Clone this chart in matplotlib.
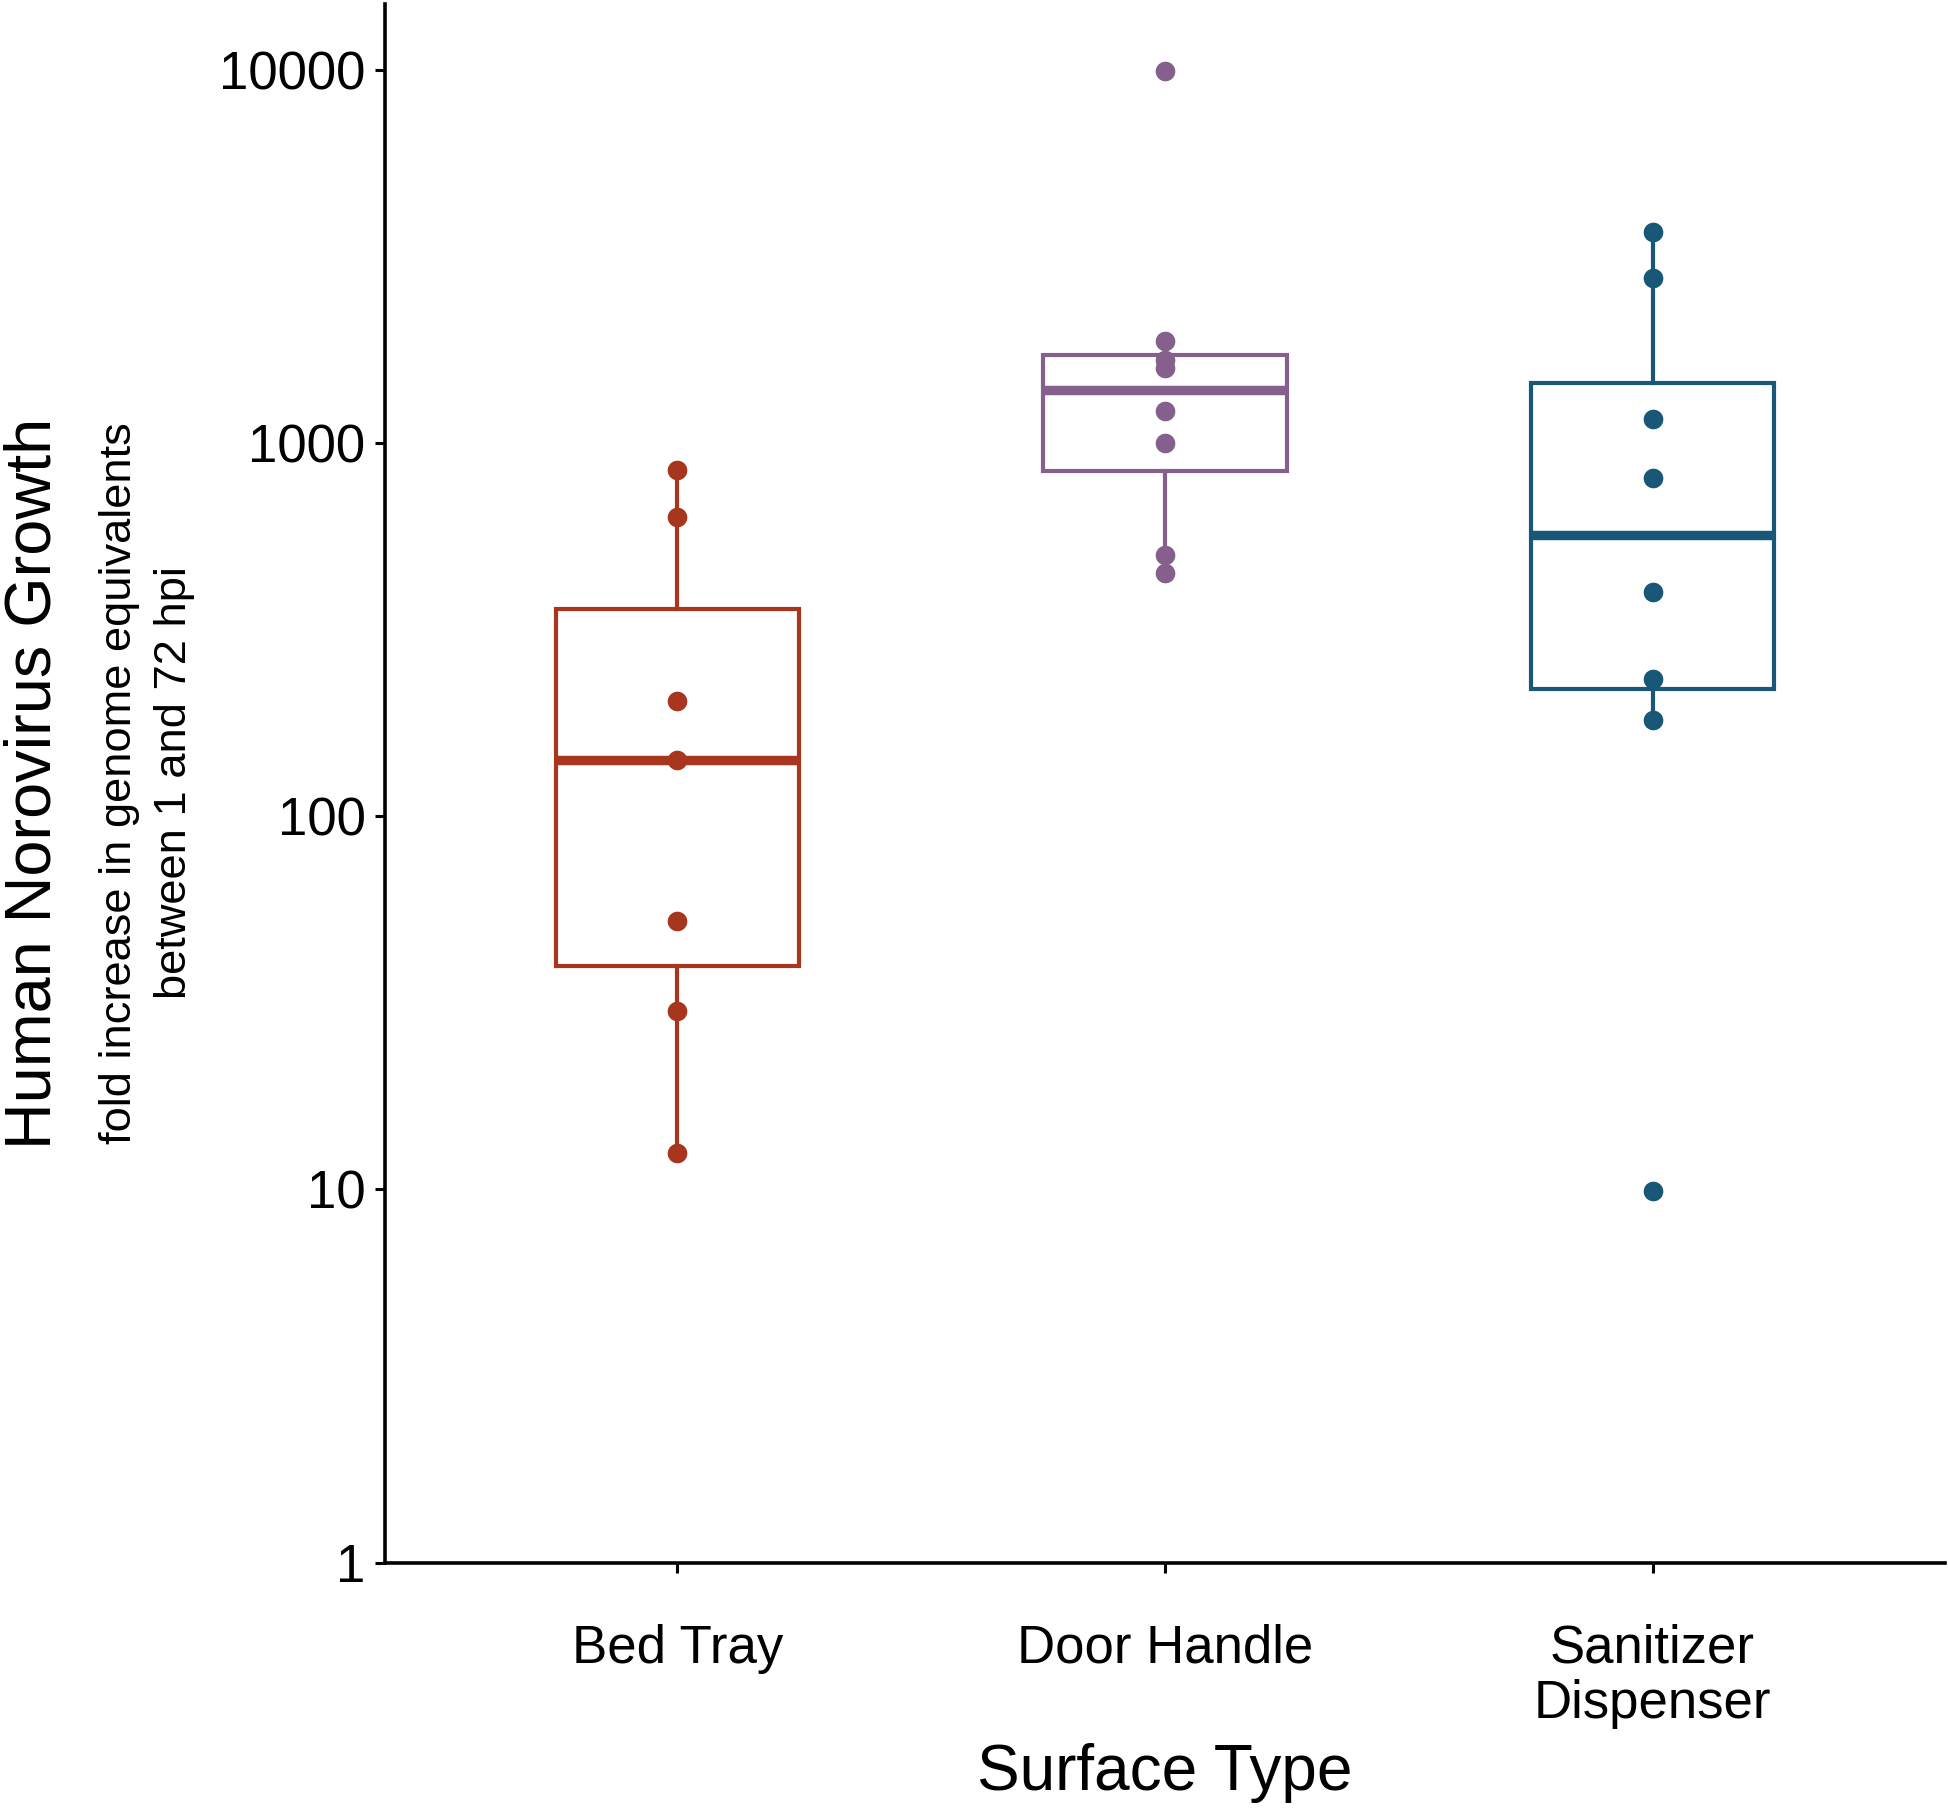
"""Human norovirus growth per surface type: log-scale box plot with raw points."""
import numpy as np
import matplotlib

matplotlib.use("Agg")
import matplotlib.pyplot as plt
from matplotlib.ticker import FixedLocator, FixedFormatter, NullLocator

plt.rcParams["font.family"] = ["Liberation Sans", "DejaVu Sans"]

SURFACES = ["Bed Tray", "Door Handle", "Sanitizer\nDispenser"]
COLORS = ["#A8361E", "#86608C", "#185778"]

# fold increase in genome equivalents
BED_TRAY = [847, 634, 203, 141, 52.4, 30.0, 12.5]
DOOR_HANDLE = [9900, 1879, 1667, 1585, 1217, 997, 501, 447]
SANITIZER = [3667, 2767, 1162, 807, 399, 233, 181, 9.9]

Y_TICKS = [1, 10, 100, 1000, 10000]
Y_TICK_LABELS = ["1", "10", "100", "1000", "10000"]


def log_box_stats(values):
    # quartiles and whiskers on the log10 scale, like ggplot with scale_y_log10
    logv = np.log10(np.asarray(values, dtype=float))
    q1, med, q3 = np.percentile(logv, [25, 50, 75])
    iqr = q3 - q1
    inside = logv[(logv >= q1 - 1.5 * iqr) & (logv <= q3 + 1.5 * iqr)]
    return dict(med=10 ** med, q1=10 ** q1, q3=10 ** q3,
                whislo=10 ** inside.min(), whishi=10 ** inside.max(), fliers=[])


def main():
    fig = plt.figure(figsize=(19.49, 18.10), dpi=100)
    ax = fig.add_axes([0.1975, 0.1367, 0.8005, 0.8611])

    groups = [BED_TRAY, DOOR_HANDLE, SANITIZER]
    for i, (vals, col) in enumerate(zip(groups, COLORS)):
        pos = i + 1
        ax.bxp([log_box_stats(vals)], positions=[pos], widths=0.5,
               patch_artist=True, showcaps=False, showfliers=False,
               boxprops=dict(facecolor="white", edgecolor=col, linewidth=3.0),
               whiskerprops=dict(color=col, linewidth=3.0),
               medianprops=dict(color=col, linewidth=6.8, solid_capstyle="butt"),
               zorder=2)
        ax.scatter([pos] * len(vals), vals, s=200, color=col, zorder=3,
                   linewidths=0)

    ax.set_yscale("log")
    ax.set_ylim(1, 15000)
    ax.set_xlim(0.4, 3.6)
    ax.yaxis.set_major_locator(FixedLocator(Y_TICKS))
    ax.yaxis.set_major_formatter(FixedFormatter(Y_TICK_LABELS))
    ax.yaxis.set_minor_locator(NullLocator())
    ax.set_xticks([1, 2, 3])
    ax.set_xticklabels(SURFACES, linespacing=1.13)

    for side in ("top", "right"):
        ax.spines[side].set_visible(False)
    for side in ("left", "bottom"):
        ax.spines[side].set_linewidth(2.6)
        ax.spines[side].set_color("black")

    ax.tick_params(axis="y", length=7, width=2.2, pad=7, labelsize=38, colors="black")
    ax.tick_params(axis="x", length=7, width=2.2, pad=37, labelsize=38, colors="black")

    fig.text(0.017, 0.5674, "Human Norovirus Growth", rotation=90,
             ha="center", va="center", fontsize=46.6)
    fig.text(0.0753, 0.5674, "fold increase in genome equivalents\nbetween 1 and 72 hpi",
             rotation=90, ha="center", va="center", fontsize=32.6,
             multialignment="center", linespacing=1.45)
    fig.text(0.5977, 0.011, "Surface Type", ha="center", va="baseline", fontsize=46)

    fig.savefig("out.png", dpi=100, facecolor="white")


if __name__ == "__main__":
    main()
